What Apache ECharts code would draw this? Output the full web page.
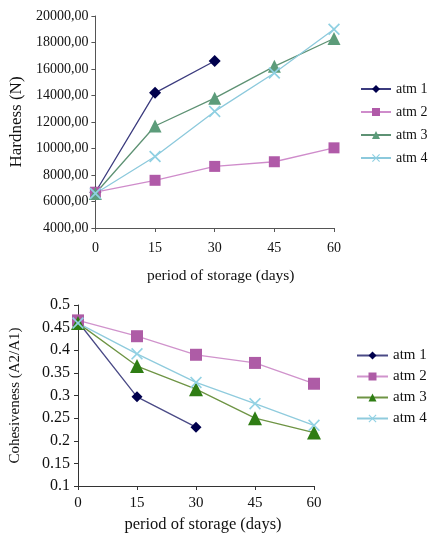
<!DOCTYPE html>
<html>
<head>
<meta charset="utf-8">
<script src="https://cdn.jsdelivr.net/npm/echarts@6/dist/echarts.min.js"></script>
<style>
  html, body { margin: 0; padding: 0; background: #fff; }
  #chart { width: 434px; height: 536px; }
</style>
</head>
<body>
<div id="chart"></div>
<script>
// data
const days = [0, 15, 30, 45, 60];
const seriesNames = ['atm 1', 'atm 2', 'atm 3', 'atm 4'];

// hardness (N)
const hardAtm1 = [6700, 14200, 16600];
const hardAtm2 = [6700, 7600, 8650, 9000, 10050];
const hardAtm3 = [6600, 11700, 13800, 16200, 18300];
const hardAtm4 = [6600, 9400, 12800, 15700, 19000];

// cohesiveness (A2/A1)
const cohAtm1 = [0.463, 0.297, 0.23];
const cohAtm2 = [0.466, 0.431, 0.39, 0.372, 0.326];
const cohAtm3 = [0.46, 0.365, 0.314, 0.25, 0.218];
const cohAtm4 = [0.46, 0.392, 0.329, 0.282, 0.234];

const hardTicks = { min: 4000, max: 20000, step: 2000 };
const cohTicks = { min: 0.1, max: 0.5, step: 0.05 };

const font = "'Liberation Serif', 'Times New Roman', serif";
const crossPath = 'path://M0,1L1,0L5,4L9,0L10,1L6,5L10,9L9,10L5,6L1,10L0,9L4,5Z';

const pair = (vals) => vals.map((v, i) => [days[i], v]);

// marker / line styles per series, top and bottom panel
const topStyle = [
  { symbol: 'diamond', size: 12, mark: '#00004d', line: '#3b3b7e' },
  { symbol: 'rect', size: 11, mark: '#b05aa8', line: '#cf8ccb' },
  { symbol: 'triangle', size: 13, mark: '#5c9c7a', line: '#5e9274' },
  { symbol: crossPath, size: 12, mark: '#8fd0e2', line: '#8cc9dc' }
];
const botStyle = [
  { symbol: 'diamond', size: 11, mark: '#00004d', line: '#4a4a86' },
  { symbol: 'rect', size: 12, mark: '#ae5ca6', line: '#d093cc' },
  { symbol: 'triangle', size: 14, mark: '#2f7d14', line: '#6e9444' },
  { symbol: crossPath, size: 12, mark: '#92d2e4', line: '#8fcbdd' }
];

const makeSeries = (name, vals, st, idx, suffix) => ({
  name: name + suffix,
  type: 'line',
  xAxisIndex: idx,
  yAxisIndex: idx,
  data: pair(vals),
  symbol: st.symbol,
  symbolSize: st.size,
  itemStyle: { color: st.mark },
  lineStyle: { color: st.line, width: 1.3 },
  emphasis: { disabled: true },
  animation: false
});

const topVals = [hardAtm1, hardAtm2, hardAtm3, hardAtm4];
const botVals = [cohAtm1, cohAtm2, cohAtm3, cohAtm4];

const series = [];
seriesNames.forEach((n, i) => series.push(makeSeries(n, topVals[i], topStyle[i], 0, '')));
seriesNames.forEach((n, i) => series.push(makeSeries(n, botVals[i], botStyle[i], 1, ' ')));

const axisLine = (c) => ({ show: true, lineStyle: { color: c, width: 1 } });

const myChart = echarts.init(document.getElementById('chart'));
myChart.setOption({
  backgroundColor: '#fff',
  animation: false,
  textStyle: { fontFamily: font },
  grid: [
    { left: 94, top: 16, width: 240, height: 212 },
    { left: 74, top: 305, width: 240, height: 181 }
  ],
  legend: [
    {
      data: seriesNames,
      orient: 'vertical',
      left: 355,
      top: 77,
      itemWidth: 30,
      itemHeight: 10,
      itemGap: 9,
      textStyle: { fontFamily: font, fontSize: 14, color: '#111' },
      selectedMode: false
    },
    {
      data: seriesNames.map(n => n + ' '),
      orient: 'vertical',
      left: 351,
      top: 343,
      itemWidth: 31,
      itemHeight: 10,
      itemGap: 6,
      formatter: (n) => n.trim(),
      textStyle: { fontFamily: font, fontSize: 15, color: '#111' },
      selectedMode: false
    }
  ],
  xAxis: [
    {
      type: 'value', gridIndex: 0, min: 0, max: 60, interval: 15,
      name: 'period of storage (days)', nameLocation: 'middle', nameGap: 40,
      nameTextStyle: { fontFamily: font, fontSize: 15.5, color: '#111', padding: [0, 0, 0, 12] },
      axisLine: axisLine('#555'),
      axisTick: { show: true, length: 4, lineStyle: { color: '#555' } },
      axisLabel: { fontFamily: font, fontSize: 14, color: '#111', margin: 13 },
      splitLine: { show: false }
    },
    {
      type: 'value', gridIndex: 1, min: 0, max: 60, interval: 15,
      name: 'period of storage (days)', nameLocation: 'middle', nameGap: 30,
      nameTextStyle: { fontFamily: font, fontSize: 16.5, color: '#111', padding: [0, 0, 0, 14] },
      axisLine: axisLine('#333'),
      axisTick: { show: true, length: 4, lineStyle: { color: '#333' } },
      axisLabel: { fontFamily: font, fontSize: 15, color: '#111', margin: 10 },
      splitLine: { show: false }
    }
  ],
  yAxis: [
    {
      type: 'value', gridIndex: 0,
      min: hardTicks.min, max: hardTicks.max, interval: hardTicks.step,
      name: 'Hardness (N)', nameLocation: 'middle', nameGap: 70,
      nameTextStyle: { fontFamily: font, fontSize: 17, color: '#111' },
      axisLine: axisLine('#555'),
      axisTick: { show: true, length: 4, lineStyle: { color: '#555' } },
      axisLabel: {
        fontFamily: font, fontSize: 14, color: '#111', margin: 7,
        formatter: (v) => v.toFixed(2).replace('.', ',')
      },
      splitLine: { show: false }
    },
    {
      type: 'value', gridIndex: 1,
      min: cohTicks.min, max: cohTicks.max, interval: cohTicks.step,
      name: 'Cohesiveness (A2/A1)', nameLocation: 'middle', nameGap: 55,
      nameTextStyle: { fontFamily: font, fontSize: 15, color: '#111' },
      axisLine: axisLine('#333'),
      axisTick: { show: true, length: 4, lineStyle: { color: '#333' } },
      axisLabel: {
        fontFamily: font, fontSize: 16, color: '#111', margin: 8,
        formatter: (v) => String(parseFloat(v.toFixed(2)))
      },
      splitLine: { show: false }
    }
  ],
  series: series
});
</script>
</body>
</html>
